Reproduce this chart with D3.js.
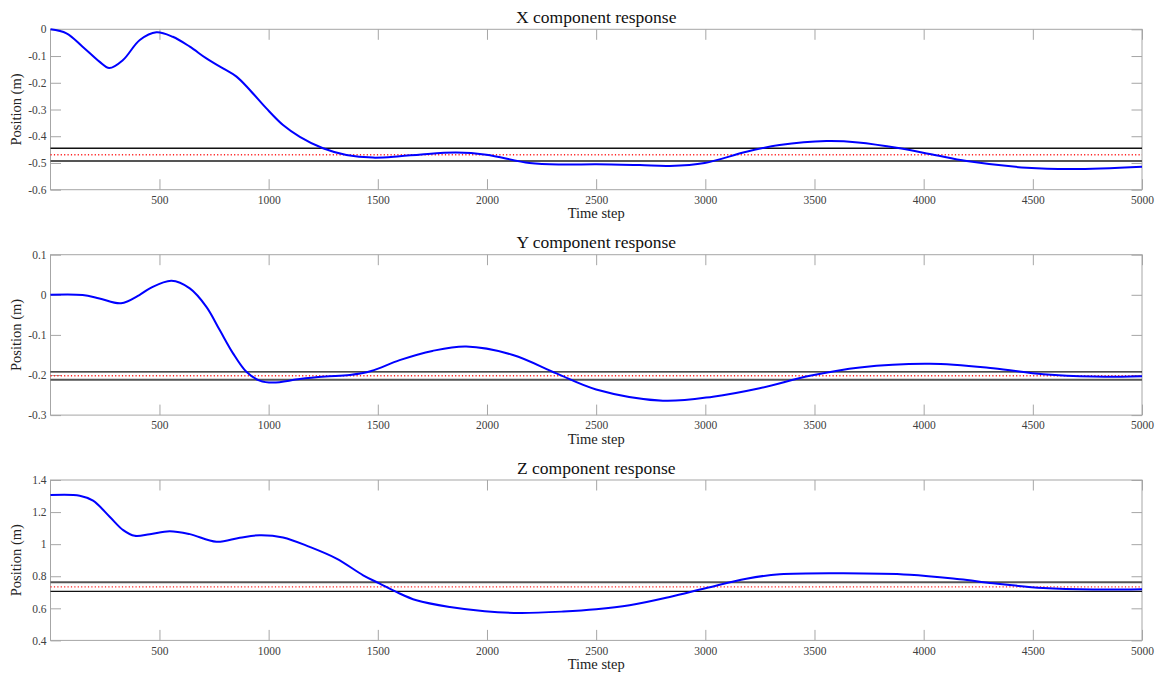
<!DOCTYPE html>
<html><head><meta charset="utf-8">
<script src="https://cdn.jsdelivr.net/npm/d3@7"></script>
<style>body{margin:0;background:#fff}svg{display:block}text{font-family:"Liberation Serif","DejaVu Serif",serif}</style>
</head><body>
<script>
// ---- data ----
const titles = ["X component response", "Y component response", "Z component response"];
const yDomains = [[-0.6, 0], [-0.3, 0.1], [0.4, 1.4]];
const yTicks = [[-0.6,-0.5,-0.4,-0.3,-0.2,-0.1,0],[-0.3,-0.2,-0.1,0,0.1],[0.4,0.6,0.8,1,1.2,1.4]];
const xTicks = [500,1000,1500,2000,2500,3000,3500,4000,4500,5000];

const xStep = [1,74,148,225,270,333,410,486,561,639,715,791,853,914,990,1066,1143,1249,1356,1478,1600,1700,1859,1997,2195,2350,2500,2700,2837,2997,3188,3340,3555,3700,3891,4050,4197,4472,4684,5000];
const xPos  = [0,-0.015,-0.065,-0.121,-0.145,-0.115,-0.040,-0.011,-0.028,-0.065,-0.109,-0.146,-0.177,-0.227,-0.296,-0.358,-0.402,-0.445,-0.470,-0.480,-0.475,-0.468,-0.461,-0.469,-0.500,-0.506,-0.505,-0.508,-0.511,-0.500,-0.458,-0.433,-0.418,-0.423,-0.445,-0.470,-0.493,-0.518,-0.523,-0.514];

const yStep = [1,148,225,324,408,456,555,639,715,776,837,898,959,1020,1143,1260,1372,1470,1600,1750,1905,2119,2318,2500,2806,3035,3249,3479,3708,4029,4318,4548,4777,5000];
const yPos  = [0,-0.0006,-0.009,-0.021,-0.0006,0.016,0.035,0.016,-0.030,-0.088,-0.146,-0.192,-0.214,-0.219,-0.210,-0.204,-0.200,-0.190,-0.163,-0.140,-0.129,-0.150,-0.196,-0.236,-0.264,-0.254,-0.233,-0.202,-0.181,-0.172,-0.183,-0.198,-0.204,-0.203];

const zStep = [1,135,196,272,334,387,456,547,639,761,868,959,1066,1188,1311,1433,1509,1585,1677,1830,1990,2150,2350,2500,2653,2837,3005,3188,3341,3631,3937,4166,4318,4548,4777,5000];
const zPos  = [1.306,1.302,1.271,1.171,1.0875,1.052,1.0625,1.081,1.0625,1.0146,1.040,1.056,1.042,0.983,0.910,0.806,0.754,0.702,0.650,0.608,0.582,0.571,0.580,0.594,0.619,0.671,0.727,0.785,0.8125,0.819,0.810,0.781,0.756,0.727,0.717,0.719];

const refValues   = [-0.469, -0.202, 0.734];
const bandOuter   = [-0.4925, -0.212, 0.7625];   // reference * 1.05 (grey, heavier)
const bandInner   = [-0.445, -0.192, 0.706];     // reference * 0.95 (black)

// ---- layout ----
const W = 1161, H = 677;
const left = 50.5, right = 1142;
const tops = [29.3, 254.7, 480];
const ph = 160.4;
const svg = d3.select("body").append("svg").attr("width", W).attr("height", H);
const x = d3.scaleLinear().domain([1, 5000]).range([left, right]);
const series = [[xStep, xPos], [yStep, yPos], [zStep, zPos]];
const axisCol = "#a6a6a6", labCol = "#404040";
const fmt = d => String(+d.toFixed(2));

series.forEach((s, i) => {
  const top = tops[i], bot = top + ph;
  const y = d3.scaleLinear().domain(yDomains[i]).range([bot, top]);
  const g = svg.append("g");
  const tl = 10.5;
  g.append("rect").attr("x", left).attr("y", top).attr("width", right-left).attr("height", ph)
    .attr("fill", "none").attr("stroke", axisCol).attr("stroke-width", 1);
  const gb = g.append("g").attr("transform", `translate(0,${bot})`)
    .call(d3.axisBottom(x).tickValues(xTicks).tickSize(-tl).tickFormat(d3.format("d")));
  const gt = g.append("g").attr("transform", `translate(0,${top})`)
    .call(d3.axisTop(x).tickValues(xTicks).tickSize(-tl).tickFormat(""));
  const gl = g.append("g").attr("transform", `translate(${left},0)`)
    .call(d3.axisLeft(y).tickValues(yTicks[i]).tickSize(-tl).tickFormat(fmt));
  const gr = g.append("g").attr("transform", `translate(${right},0)`)
    .call(d3.axisRight(y).tickValues(yTicks[i]).tickSize(-tl).tickFormat(""));
  [gb, gt, gl, gr].forEach(a => {
    a.select(".domain").remove();
    a.selectAll(".tick line").attr("stroke", axisCol);
    a.selectAll(".tick text").attr("fill", labCol).style("font-size", "11.5px").style("font-family", '"Liberation Serif",serif');
  });
  gl.selectAll(".tick text").attr("x", -4);
  gb.selectAll(".tick text").attr("y", 6).attr("dy", "0.71em");
  const hl = (v, col, w, dash) => g.append("line").attr("x1", left).attr("x2", right)
      .attr("y1", y(v)).attr("y2", y(v)).attr("stroke", col).attr("stroke-width", w)
      .attr("stroke-dasharray", dash);
  hl(bandInner[i], "#111", 1.3, null);
  hl(bandOuter[i], "#555", 1.9, null);
  hl(refValues[i], "#ff2020", 1.4, "1.2,2.2");
  const pts = s[0].map((t, k) => [t, s[1][k]]);
  const line = d3.line().x(d => x(d[0])).y(d => y(d[1])).curve(d3.curveCatmullRom.alpha(0.5));
  g.append("path").datum(pts).attr("d", line).attr("fill", "none").attr("stroke", "#0000ff").attr("stroke-width", 2);
  g.append("text").attr("x", (left+right)/2).attr("y", top - 6.5).attr("text-anchor", "middle")
    .style("font-size", "17.5px").attr("fill", "#111").text(titles[i]);
  g.append("text").attr("x", (left+right)/2).attr("y", bot + 28.5).attr("text-anchor", "middle")
    .style("font-size", "14.5px").attr("fill", "#222").text("Time step");
  g.append("text").attr("transform", `translate(21,${top + ph/2}) rotate(-90)`).attr("text-anchor", "middle")
    .style("font-size", "14.5px").attr("fill", "#222").text("Position (m)");
});
</script>
</body></html>
